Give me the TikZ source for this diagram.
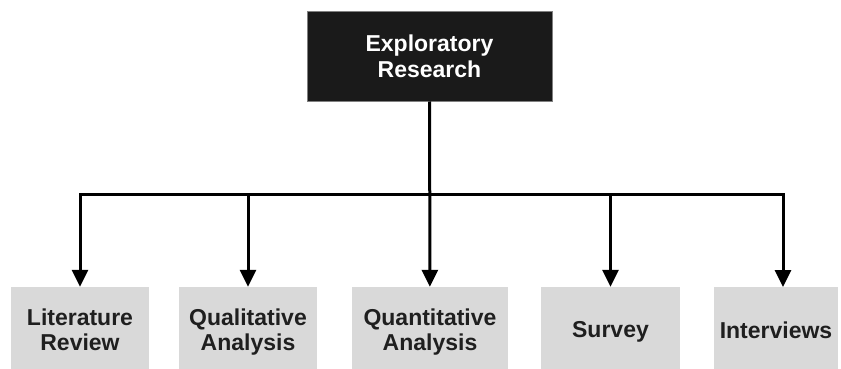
\documentclass[tikz,border=0pt]{standalone}
\usepackage{fontspec}
\setmainfont{Liberation Sans}
\usetikzlibrary{arrows.meta}
\definecolor{headfill}{HTML}{1A1A1A}
\definecolor{headline}{HTML}{808080}
\definecolor{leaffill}{HTML}{D9D9D9}
\definecolor{leaftext}{HTML}{1F1F1F}
% uniform line strut so every label line has the same height and depth
\newcommand\lnstrut{\rule[-4.75pt]{0pt}{25.5pt}}
\tikzset{
  label font/.style={font=\fontsize{23}{25.5}\selectfont\bfseries, align=center},
  headbox/.style={label font, fill=headfill, draw=headline, line width=1pt,
    text=white, inner sep=0pt},
  leafbox/.style={label font, fill=leaffill, text=leaftext, inner sep=0pt,
    minimum height=86pt},
  bus/.style={line width=3pt, draw=black},
  feed/.style={bus, -{Triangle[width=16pt,length=17pt]}},
}
\begin{document}
\begin{tikzpicture}[x=1pt,y=-1pt]
\useasboundingbox (0,0) rectangle (841,369);

% root
\node[headbox, minimum width=245pt, minimum height=89pt] (top) at (429.5,56.5)
  {Exploratory\lnstrut\\Research\lnstrut};

% leaves (their lower edge runs past the page)
\node[leafbox, minimum width=138pt] (b1) at (80,330)   {Literature\lnstrut\\Review\lnstrut};
\node[leafbox, minimum width=138pt] (b2) at (248,330)  {Qualitative\lnstrut\\Analysis\lnstrut};
\node[leafbox, minimum width=156pt] (b3) at (430,330)  {Quantitative\lnstrut\\Analysis\lnstrut};
\node[leafbox, minimum width=139pt] (b4) at (610.5,330){Survey\lnstrut};
\node[leafbox, minimum width=124pt] (b5) at (776,330)  {Interviews\lnstrut};

% distribution bar and arrows
\coordinate (mid) at (430,194);
\coordinate (t5) at (783,287);
\draw[feed] (top) -- (b3);
\draw[feed] (mid) -| (b1);
\draw[feed] (mid) -| (t5);
\draw[feed] (b2 |- mid) -- (b2);
\draw[feed] (b4 |- mid) -- (b4);
\end{tikzpicture}
\end{document}
